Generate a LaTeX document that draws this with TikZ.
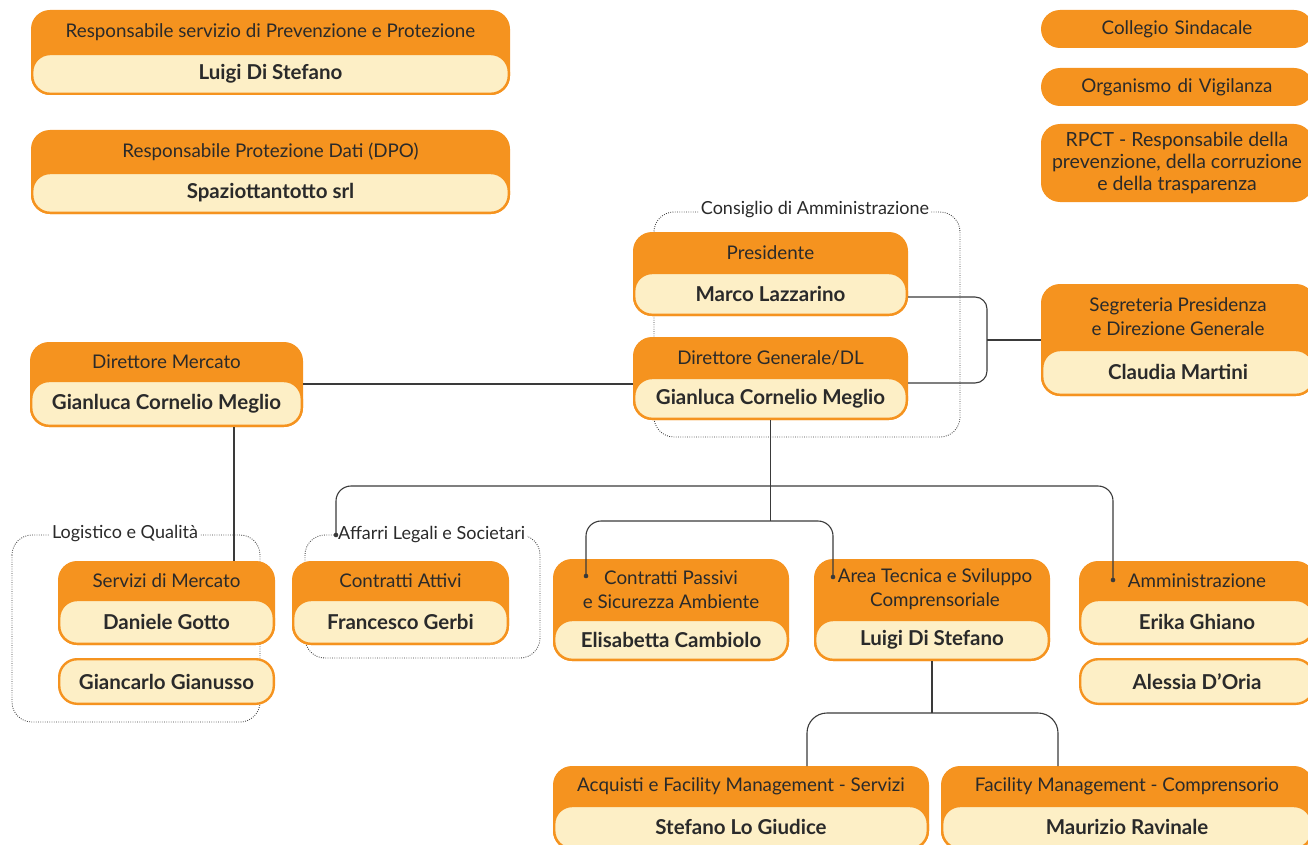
\documentclass[tikz,border=0pt]{standalone}
\usepackage{fontspec}
\setmainfont{Lato}
\usetikzlibrary{calc}

\definecolor{orgorange}{HTML}{F5931F}
\definecolor{orgcream}{HTML}{FDEFC6}
\definecolor{orgtext}{HTML}{2A2A2A}
\definecolor{orgline}{HTML}{3A3A3A}
\definecolor{orgframe}{HTML}{3C3C3C}

\tikzset{
  unitbg/.style={rectangle, fill=orgorange, rounded corners=19pt, inner sep=0pt, outer sep=0pt},
  personbox/.style={rectangle, fill=orgcream, draw=orgorange, line width=2.4pt,
    rounded corners=18pt, inner sep=0pt, outer sep=0pt,
    font=\fontsize{20.5}{22}\selectfont\bfseries, text=orgtext},
  titletext/.style={align=center, inner sep=0pt, font=\fontsize{18.8}{24}\selectfont, text=orgtext},
  unittitle/.style={},
  framelabel/.style={fill=white, inner sep=2pt, font=\fontsize{18}{20}\selectfont, text=orgtext},
  groupframe/.style={draw=orgframe, line width=0.85pt, dash pattern=on 0.85pt off 1.4pt, rounded corners=20pt},
  conn/.style={draw=orgline, line width=1.1pt},
  enddot/.style={circle, fill=orgline, inner sep=0pt, minimum size=4.6pt},
}

% orange unit with title and a cream person field
% #1 name, #2 x1, #3 y1, #4 x2, #5 y2, #6 top of person field, #7 title, #8 person
\newcommand\orgunit[8]{%
  \node[unitbg, minimum width={(#4-#2)*1pt}, minimum height={(#5-#3)*1pt}] (#1) at ({(#2+#4)/2},{(#3+#5)/2}) {};
  \node[personbox, minimum width={(#4-#2)*1pt-2.4pt}, minimum height={(#5-#6)*1pt-1.2pt}] (#1-p) at ({(#2+#4)/2},{(#6+#5)/2-0.6}) {#8};
  \node[titletext, unittitle] (#1-t) at ({(#2+#4)/2},{(#3+#6)/2}) {#7};
}
% cream-only person field
\newcommand\orgperson[6]{%
  \node[personbox, minimum width={(#4-#2)*1pt-2.4pt}, minimum height={(#5-#3)*1pt-2.4pt}] (#1) at ({(#2+#4)/2},{(#3+#5)/2}) {#6};
}
% orange-only body
\newcommand\orgbody[6]{%
  \node[unitbg, minimum width={(#4-#2)*1pt}, minimum height={(#5-#3)*1pt}] (#1) at ({(#2+#4)/2},{(#3+#5)/2}) {};
  \node[titletext, text width={(#4-#2)*1pt}] (#1-t) at (#1.center) {#6};
}

\begin{document}
\begin{tikzpicture}[x=1pt,y=-1pt]
\useasboundingbox (0,0) rectangle (1308,845);
\clip (0,0) rectangle (1308,845);

% group frames
\draw[groupframe] (654,212) rectangle (960,437);
\draw[groupframe] (12,535) rectangle (260,722);
\draw[groupframe] (305,535) rectangle (540,658);
\node[framelabel] (cda-l) at (815,210) {Consiglio di Amministrazione};
\node[framelabel] (lq-l) at (125,534) {Logistico e Qualità};
\node[framelabel, anchor=west] (als-l) at (336,535) {Affarri Legali e Societari};

% connector end points
\coordinate (affdot) at (336,535);
\coordinate (cpdot) at (586,576);
\coordinate (atdot) at (833,577);
\coordinate (ammdot) at (1113,580);
\coordinate (cdjoin) at (987,340);

% units
\orgunit{rspp}{31}{10}{510}{95}{54}{Responsabile servizio di Prevenzione e Protezione}{Luigi Di Stefano}
\orgunit{dpo}{31}{130}{510}{214}{173}{Responsabile Protezione Dati (DPO)}{Spaziottantotto srl}
\orgunit{pres}{633}{232}{908}{316}{273}{Presidente}{Marco Lazzarino}
\orgunit{dg}{633}{337}{908}{420}{378}{Direttore Generale/DL}{Gianluca Cornelio Meglio}
\orgunit{dm}{30}{342}{303}{427}{381}{Direttore Mercato}{Gianluca Cornelio Meglio}
\orgunit{seg}{1041}{284}{1315}{396}{350}{Segreteria Presidenza\\e Direzione Generale}{Claudia Martini}
\orgunit{sm}{58}{561}{275}{645}{600}{Servizi di Mercato}{Daniele Gotto}
\orgperson{gg}{58}{658}{275}{705}{Giancarlo Gianusso}
\orgunit{ca}{292}{561}{509}{645}{600}{Contratti Attivi}{Francesco Gerbi}
\orgunit{cp}{553}{559}{789}{661}{620}{Contratti Passivi\\e Sicurezza Ambiente}{Elisabetta Cambiolo}
\begin{scope}[unittitle/.style={xshift=3pt}]
\orgunit{at}{814}{559}{1050}{661}{620}{Area Tecnica e Sviluppo\\Comprensoriale}{Luigi Di Stefano}
\end{scope}
\orgunit{amm}{1079}{561}{1315}{645}{600}{Amministrazione}{Erika Ghiano}
\orgperson{ado}{1079}{658}{1315}{705}{Alessia D’Oria}
\orgunit{acq}{553}{766}{929}{850}{806}{Acquisti e Facility Management - Servizi}{Stefano Lo Giudice}
\orgunit{fmc}{941}{766}{1313}{850}{806}{Facility Management - Comprensorio}{Maurizio Ravinale}

\orgbody{cs}{1041}{10}{1313}{48}{Collegio Sindacale}
\orgbody{odv}{1041}{68}{1313}{106}{Organismo di Vigilanza}
\node[unitbg, minimum width=272pt, minimum height=78pt] (rpct) at (1177,163) {};
\node[titletext, font=\fontsize{19.5}{22}\selectfont] (rpct-t) at (rpct.center) {RPCT - Responsabile della\\prevenzione, della corruzione\\e della trasparenza};

% connectors
\draw[conn] (dm.east |- 0,384) -- (dg.west |- 0,384);
\draw[conn, rounded corners=12pt] (pres.east |- 0,297) -| (cdjoin) |- (dg.east |- 0,383);
\draw[conn] (cdjoin) -- (seg.west |- cdjoin);
\draw[conn] (dm.south -| 234,0) -- (sm.north -| 234,0);
\draw[conn] (dg.south) -- (dg.south |- 0,521);
\draw[conn, rounded corners=15pt] (affdot) |- (dg.south |- 0,486) -| (ammdot);
\draw[conn, rounded corners=15pt] (cpdot) |- (dg.south |- 0,521) -| (atdot);
\draw[conn] (at.south) -- (at.south |- 0,713);
\draw[conn, rounded corners=20pt] (acq.north -| 807,0) |- (at.south |- 0,713) -| (fmc.north -| 1058,0);

\foreach \d in {affdot,cpdot,atdot,ammdot}
  \node[enddot] (\d-m) at (\d) {};
\end{tikzpicture}
\end{document}
